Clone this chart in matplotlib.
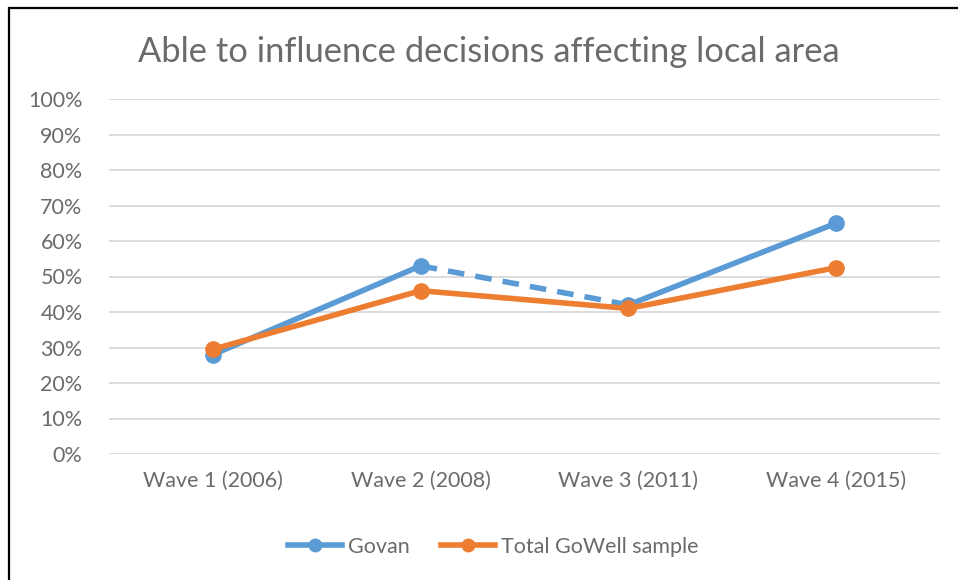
import matplotlib
matplotlib.use("Agg")
import matplotlib.pyplot as plt
from matplotlib.lines import Line2D
from matplotlib.patches import Rectangle

categories = ["Wave 1 (2006)", "Wave 2 (2008)", "Wave 3 (2011)", "Wave 4 (2015)"]
govan = [28, 53, 42, 65]
total = [29.5, 46, 41, 52.5]
yticks = [0, 10, 20, 30, 40, 50, 60, 70, 80, 90, 100]

BLUE = "#5B9BD5"
ORANGE = "#ED7D31"
TXT = "#6B6B6B"

plt.rcParams['font.family'] = ['Lato', 'DejaVu Sans']

fig = plt.figure(figsize=(9.58, 5.8), dpi=100)
ax = fig.add_axes([109/958, 1-454/580, (940-109)/958, (454-99)/580])

x = list(range(len(categories)))
lw = 4.0
ms = 11
# Govan: solid except dashed segment wave2->wave3
ax.plot(x[0:2], govan[0:2], color=BLUE, lw=lw, solid_capstyle='round', zorder=3)
ax.plot(x[1:3], govan[1:3], color=BLUE, lw=lw, ls=(0, (3, 2)), zorder=3)
ax.plot(x[2:4], govan[2:4], color=BLUE, lw=lw, solid_capstyle='round', zorder=3)
ax.plot(x, govan, ls='none', marker='o', ms=ms, color=BLUE, zorder=4)
ax.plot(x, total, color=ORANGE, lw=lw, marker='o', ms=ms, zorder=5, solid_capstyle='round')

ax.set_xlim(-0.5, 3.5)
ax.set_ylim(0, 100)
ax.set_yticks(yticks)
ax.set_yticklabels([f"{v}%" for v in yticks])
ax.set_xticks(x)
ax.set_xticklabels(categories)
ax.tick_params(axis='both', length=0, colors=TXT, labelsize=15.5)
ax.tick_params(axis='x', pad=12)
ax.tick_params(axis='y', pad=19)
ax.grid(axis='y', color='#D9D9D9', lw=1.3)
ax.set_axisbelow(True)
for s in ax.spines.values():
    s.set_visible(False)

fig.text(489/958, 1-52/580, "Able to influence decisions affecting local area",
         ha='center', va='center', fontsize=24.8, color=TXT)

handles = [Line2D([], [], color=BLUE, lw=lw, marker='o', ms=9),
           Line2D([], [], color=ORANGE, lw=lw, marker='o', ms=9)]
fig.legend(handles, ["Govan", "Total GoWell sample"], loc='center',
           bbox_to_anchor=(493/958, 1-547/580), ncol=2, frameon=False,
           fontsize=15.5, labelcolor=TXT, handlelength=2.5, columnspacing=1.45,
           handletextpad=0.28)

# partial border (top and left visible)
fig.patches.append(Rectangle((9/958, -0.1), 1.2, 1-8/580+0.1, transform=fig.transFigure,
                             fill=False, ec='black', lw=1.6, figure=fig))

fig.savefig("out.png", dpi=100)
